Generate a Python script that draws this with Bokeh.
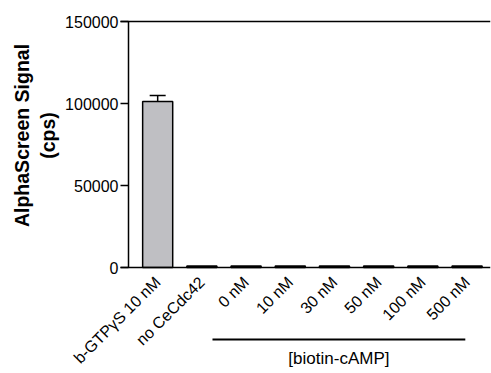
import math
from bokeh.plotting import figure
from bokeh.models import (Range1d, FixedTicker, LinearAxis, ColumnDataSource,
                          Whisker, NumeralTickFormatter)
from bokeh.core.properties import value
from bokeh.embed import file_html
from bokeh.resources import INLINE

# ---- data ----
categories = ["b-GTP\u03b3S 10 nM", "no CeCdc42", "0 nM", "10 nM", "30 nM",
              "50 nM", "100 nM", "500 nM"]
signal = [101200, 900, 900, 900, 900, 900, 900, 900]
sd = [3700, 0, 0, 0, 0, 0, 0, 0]
y_ticks = [0, 50000, 100000, 150000]
y_label_1 = "AlphaScreen Signal"
y_label_2 = "(cps)"
group_label = "[biotin-cAMP]"
group_first = 2
group_last = 7

FONT = "Liberation Sans"

xs = list(range(len(categories)))
upper = [m + s for m, s in zip(signal, sd)]

X0 = -0.66          # category axis origin (where the y axis sits)
X_END = 7.53
p = figure(width=491, height=373, output_backend="svg", toolbar_location=None,
           x_range=Range1d(-3.556, X_END), y_range=Range1d(-64634, 162805),
           min_border_left=0, min_border_right=1, min_border_top=0,
           min_border_bottom=0)
p.outline_line_color = None
p.grid.visible = False
p.background_fill_color = "white"
p.border_fill_color = "white"

src = ColumnDataSource(dict(x=xs, top=signal, upper=upper))
p.vbar(x="x", top="top", bottom=0, width=0.68, source=src,
       fill_color="#bfbfc3", line_color="black", line_width=1.5)

eb_src = ColumnDataSource(dict(x=xs[:1], base=signal[:1], upper=upper[:1]))
w = Whisker(base="x", lower="base", upper="upper", source=eb_src,
            line_color="black", line_width=1.5, dimension="height")
w.lower_head = None
w.upper_head.size = 16
w.upper_head.line_width = 1.5
p.add_layout(w)

# y axis, fixed at category origin
ya = p.yaxis[0]
ya.fixed_location = X0
ya.bounds = (y_ticks[0], y_ticks[-1])
ya.ticker = FixedTicker(ticks=y_ticks)
ya.formatter = NumeralTickFormatter(format="0")
ya.major_label_text_font = FONT
ya.major_label_text_font_size = "16px"
ya.major_label_text_color = "black"
ya.major_tick_out = 8
ya.major_tick_in = 0
ya.minor_tick_line_color = None
ya.major_label_standoff = 2
ya.axis_line_width = 1.5
ya.major_tick_line_width = 1.5

# x axis fixed at y = 0
xa = p.xaxis[0]
xa.fixed_location = 0
xa.bounds = (X0 - 0.18, X_END)
xa.ticker = FixedTicker(ticks=xs)
xa.major_label_overrides = {i: c for i, c in zip(xs, categories)}
xa.major_label_orientation = math.pi / 4
xa.major_label_text_font = FONT
xa.major_label_text_font_size = "16px"
xa.major_label_text_color = "black"
xa.major_tick_line_color = None
xa.minor_tick_line_color = None
xa.major_label_standoff = 6
xa.axis_line_width = 1.5

# top line
top_ax = LinearAxis(ticker=FixedTicker(ticks=[]), axis_line_width=1.5,
                    fixed_location=y_ticks[-1], bounds=(X0 - 0.18, X_END),
                    major_tick_line_color=None, minor_tick_line_color=None)
p.add_layout(top_ax, "above")

# y axis title (two lines)
p.text(x=[-3.06, -2.49], y=[80500, 80500], text=[y_label_1, y_label_2],
       angle=math.pi / 2, text_align="center", text_baseline="middle",
       text_font=value(FONT), text_font_style="bold", text_font_size="19.5px",
       text_color="black")

# group bracket
x0 = group_first - 0.76
x1 = group_last - 0.04
y_br = -43900
p.segment(x0=[x0], y0=[y_br], x1=[x1], y1=[y_br], line_color="black",
          line_width=2)
p.text(x=[(x0 + x1) / 2], y=[-55500], text=[group_label],
       text_align="center", text_baseline="middle", text_font=value(FONT),
       text_font_size="17px", text_color="black")

open("out.html", "w").write(file_html(p, INLINE))
